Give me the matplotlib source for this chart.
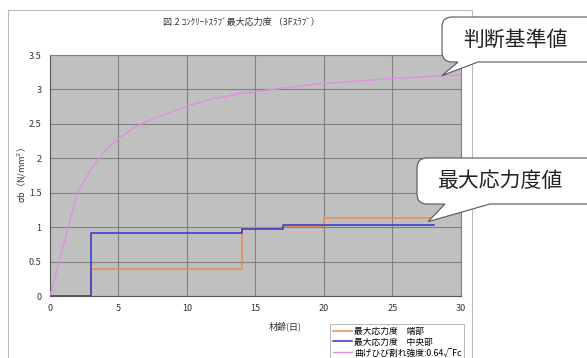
import numpy as np
import matplotlib
matplotlib.use('Agg')
import matplotlib.pyplot as plt
from matplotlib.path import Path
from matplotlib.patches import PathPatch, Rectangle

plt.rcParams['font.family'] = ['Noto Sans CJK JP', 'DejaVu Sans']

# data
edge_days = [0, 3, 3, 14, 14, 17, 17, 20, 20, 28]
edge_vals = [0, 0, 0.39, 0.39, 0.99, 0.99, 1.01, 1.01, 1.14, 1.14]
mid_days = [0, 3, 3, 14, 14, 17, 17, 28]
mid_vals = [0, 0, 0.92, 0.92, 0.97, 0.97, 1.03, 1.03]
crack_days = [0, 1, 2, 3, 4, 5, 6, 7, 8, 10, 12, 14, 17, 20, 21, 25, 28, 30]
crack_vals = [0, 0.75, 1.5, 1.84, 2.1, 2.29, 2.43, 2.53, 2.61, 2.76, 2.87, 2.94, 3.02, 3.09, 3.10, 3.16, 3.19, 3.21]

labels = ['最大応力度　端部', '最大応力度　中央部', '曲げひび割れ強度:0.64√Fc']
title = '図.2 ｺﾝｸﾘｰﾄｽﾗﾌﾞ最大応力度 （3Fｽﾗﾌﾞ）'

W, H = 587, 358
fig = plt.figure(figsize=(W / 100, H / 100), dpi=100)
ax = fig.add_axes([50 / W, 1 - 296 / H, 411 / W, 241 / H])

# chart frame
fig.patches.append(Rectangle((8 / W, -0.1), 464 / W, 1.1 - 10 / H, transform=fig.transFigure,
                             fill=False, ec='#bbbbbb', lw=0.8))

ax.set_facecolor('#c0c0c0')
ax.plot(edge_days, edge_vals, color='#f08a4b', lw=1.1, label=labels[0], zorder=3)
ax.plot(mid_days, mid_vals, color='#3333cc', lw=1.1, label=labels[1], zorder=4)
ax.plot(crack_days, crack_vals, color='#e08ee0', lw=1.0, label=labels[2], zorder=3)

ax.set_xlim(0, 30)
ax.set_ylim(0, 3.5)
ax.set_xticks(np.arange(0, 31, 5))
ax.set_yticks(np.arange(0, 3.6, 0.5))
ax.set_yticklabels(['0', '0.5', '1', '1.5', '2', '2.5', '3', '3.5'])
ax.grid(True, color='#808080', lw=0.8)
ax.set_axisbelow(True)
ax.tick_params(length=0, labelsize=6.5, colors='#333333', pad=6)
for s in ['top', 'right']:
    ax.spines[s].set_color('#808080')
for s in ['left', 'bottom']:
    ax.spines[s].set_color('#555555')

fig.text(241 / W, 1 - 22 / H, title, ha='center', va='center', fontsize=6.5, color='#333333')
fig.text(285 / W, 1 - 326 / H, '材齢(日)', ha='center', va='center', fontsize=6.5, color='#333333')
fig.text(22 / W, 1 - 175 / H, 'σb（N/mm$^2$）', ha='center', va='center', rotation=90,
         fontsize=6.5, color='#333333')

leg = ax.legend(loc='upper left', bbox_to_anchor=(326 / W, 1 - 320 / H), bbox_transform=fig.transFigure,
                fontsize=6.3, frameon=True, fancybox=False, edgecolor='#999999', borderpad=0.25,
                labelspacing=0.22, handlelength=2.2, handletextpad=0.3)
leg.get_frame().set_linewidth(0.6)


def callout(box, base, tip_data, text):
    # box: (x0, y0, x1, y1) in pixels from top-left; base: tail base x range on bottom edge
    tx, ty = fig.transFigure.inverted().transform(ax.transData.transform(tip_data))
    x0, y0, x1, y1 = [v / W if i % 2 == 0 else 1 - v / H for i, v in enumerate(box)]
    rx, ry = 10 / W, 10 / H
    b0, b1 = base[0] / W, base[1] / W
    verts = [(x1, y0), (x1, y1), (x0 + rx, y1), (x0, y1), (x0, y1 - ry),
             (x0, y0 + ry), (x0, y0), (x0 + rx, y0),
             (b0, y0), (tx, ty), (b1, y0), (x1, y0)]
    codes = [Path.MOVETO, Path.LINETO, Path.LINETO, Path.CURVE3, Path.CURVE3,
             Path.LINETO, Path.CURVE3, Path.CURVE3,
             Path.LINETO, Path.LINETO, Path.LINETO, Path.LINETO]
    p = PathPatch(Path(verts, codes), transform=fig.transFigure, fc='white', ec='#555555',
                  lw=0.8, zorder=10)
    fig.patches.append(p)
    fig.text((box[0] + 21) / W, (y0 + y1) / 2, text, ha='left', va='center', fontsize=15,
             color='#222222', zorder=11)


callout((442, 62, 600, 17), (458, 478), (28.6, 3.2), '判断基準値')
callout((417, 204, 600, 158), (445, 490), (27.6, 1.08), '最大応力度値')

fig.savefig('out.png', dpi=100)
